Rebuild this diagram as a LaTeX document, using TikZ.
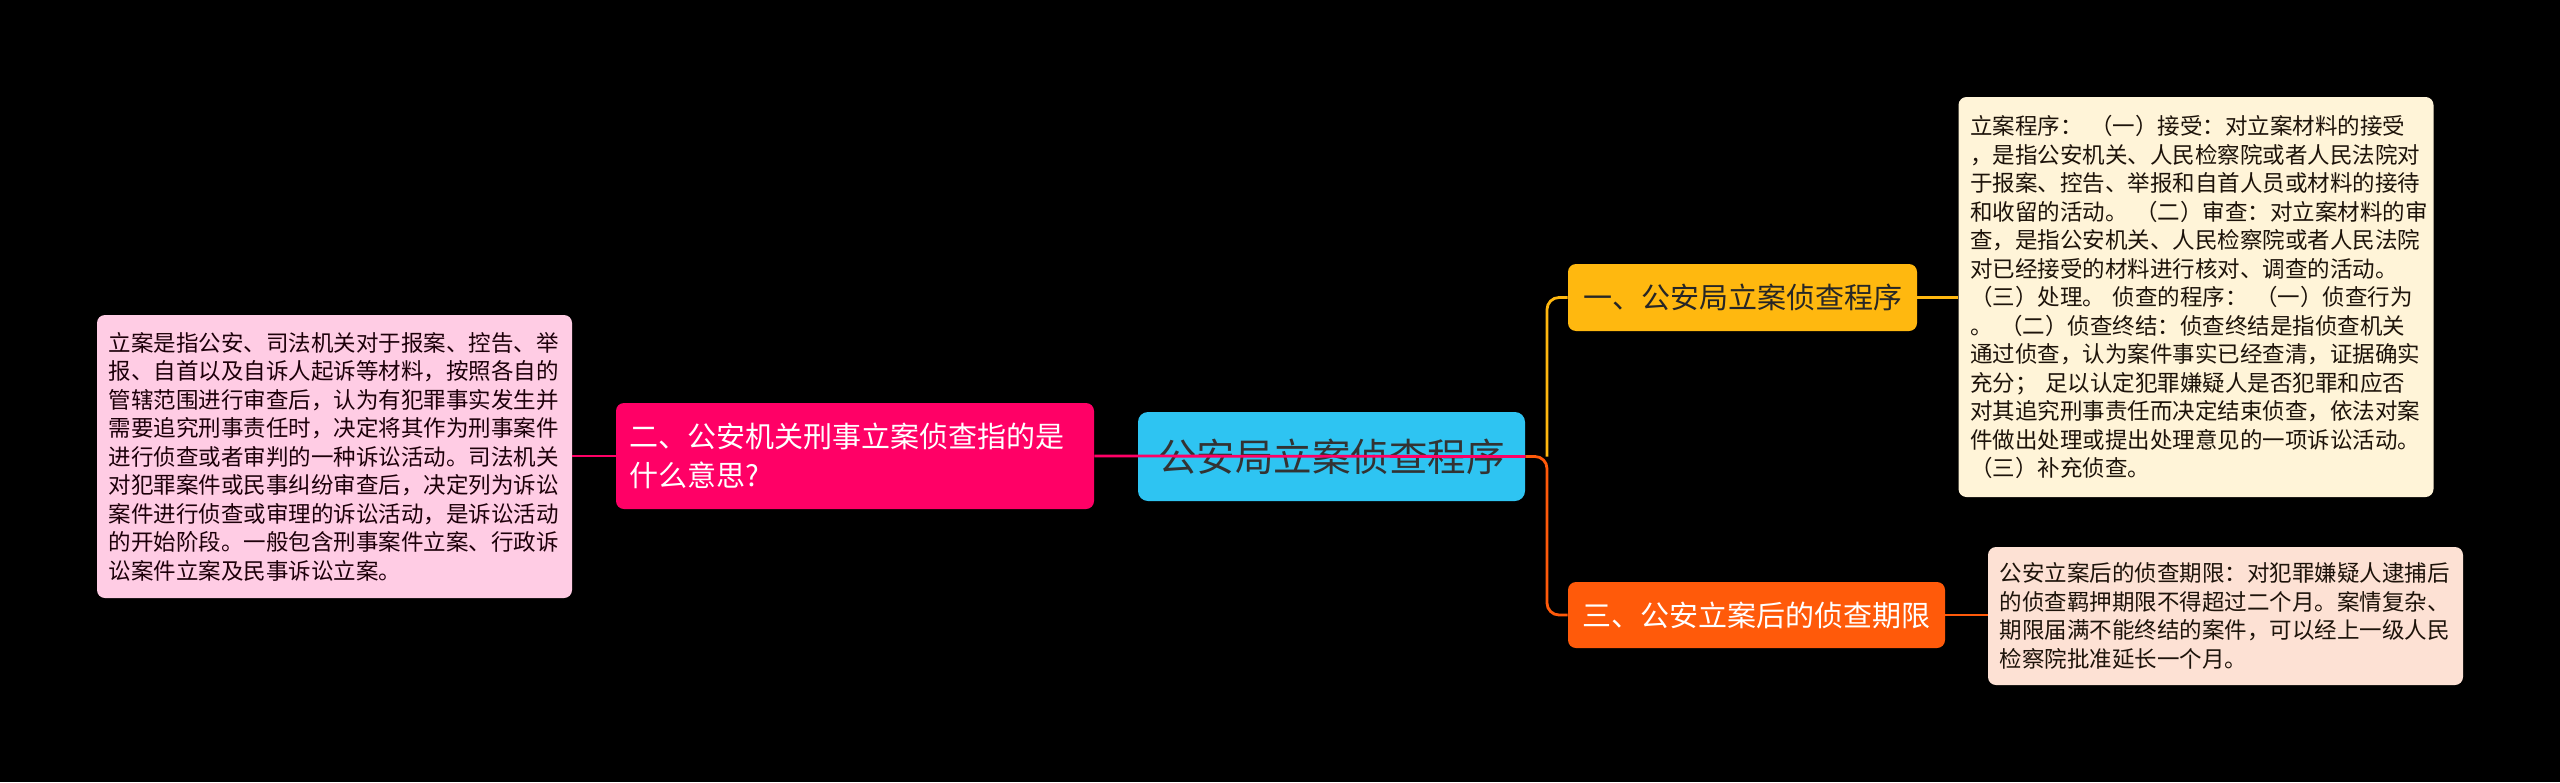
\documentclass[tikz,border=0pt]{standalone}
\usepackage{fontspec}
\setmainfont{Noto Sans CJK SC}
\usepackage{tikz}

\definecolor{rootblue}{HTML}{2EC4F2}
\definecolor{pinkbr}{HTML}{FF0066}
\definecolor{pinkleaf}{HTML}{FFCCE4}
\definecolor{yellowbr}{HTML}{FFB80F}
\definecolor{yellowleaf}{HTML}{FFF4D8}
\definecolor{orangebr}{HTML}{FF5A0A}
\definecolor{orangeleaf}{HTML}{FDE1D4}

\tikzset{
  branch/.style={rounded corners=4pt, inner sep=0pt, align=center, font=\fontsize{14.5pt}{19.5pt}\selectfont},
  leaf/.style={rounded corners=4pt, inner xsep=5.75pt, inner ysep=0pt, text width=226pt, align=left, font=\fontsize{11.25pt}{14.25pt}\selectfont},
  link/.style={line width=1.4pt, rounded corners=6pt}
}

\begin{document}
\begin{tikzpicture}[x=0.5pt, y=-0.5pt]
\fill[black] (0,0) rectangle (2560,782);
\useasboundingbox (0,0) rectangle (2560,782);

\node[fill=rootblue, text=black!80, rounded corners=5pt, inner sep=0pt, minimum width=193.5pt, minimum height=44.5pt, font=\fontsize{19.25pt}{23pt}\selectfont] (root) at (1331.5,456.5) {公安局立案侦查程序};

\node[branch, fill=yellowbr, text=black!85, minimum width=174.5pt, minimum height=33.5pt] (first) at (1742.5,297.5) {一、公安局立案侦查程序};
\node[branch, fill=pinkbr, text=white, inner xsep=6.5pt, text width=226pt, align=left, minimum height=53pt] (second) at (855,456) {二、公安机关刑事立案侦查指的是\\什么意思?};
\node[branch, fill=orangebr, text=white, minimum width=188.5pt, minimum height=33pt] (third) at (1756.5,615) {三、公安立案后的侦查期限};

\node[leaf, fill=yellowleaf, text=black!85!brown, minimum height=200pt] (firstleaf) at (2196,297) {立案程序：~（一）接受：对立案材料的接受\\，是指公安机关、人民检察院或者人民法院对\\于报案、控告、举报和自首人员或材料的接待\\和收留的活动。~（二）审查：对立案材料的审\\查，是指公安机关、人民检察院或者人民法院\\对已经接受的材料进行核对、调查的活动。\\（三）处理。~侦查的程序：~（一）侦查行为\\。~（二）侦查终结：侦查终结是指侦查机关\\通过侦查，认为案件事实已经查清，证据确实\\充分；~足以认定犯罪嫌疑人是否犯罪和应否\\对其追究刑事责任而决定结束侦查，依法对案\\件做出处理或提出处理意见的一项诉讼活动。\\（三）补充侦查。};
\node[leaf, fill=pinkleaf, text=black!85!purple, minimum height=141.5pt] (secondleaf) at (334.5,456.5) {立案是指公安、司法机关对于报案、控告、举\\报、自首以及自诉人起诉等材料，按照各自的\\管辖范围进行审查后，认为有犯罪事实发生并\\需要追究刑事责任时，决定将其作为刑事案件\\进行侦查或者审判的一种诉讼活动。司法机关\\对犯罪案件或民事纠纷审查后，决定列为诉讼\\案件进行侦查或审理的诉讼活动，是诉讼活动\\的开始阶段。一般包含刑事案件立案、行政诉\\讼案件立案及民事诉讼立案。};
\node[leaf, fill=orangeleaf, text=black!85!brown, minimum height=69pt] (thirdleaf) at (2225.5,616) {公安立案后的侦查期限：对犯罪嫌疑人逮捕后\\的侦查羁押期限不得超过二个月。案情复杂、\\期限届满不能终结的案件，可以经上一级人民\\检察院批准延长一个月。};

\coordinate (fork) at (1547,456.5);
\draw[link, yellowbr] (fork) |- (first.west);
\draw[link, orangebr] (root.east) -- (fork) |- (third.west);
\draw[link, pinkbr] (second.east) -- (root.east);
\draw[link, yellowbr] (first.east) -- (firstleaf.west |- first.east);
\draw[link, orangebr] (third.east) -- (thirdleaf.west |- third.east);
\draw[link, pinkbr] (second.west) -- (secondleaf.east |- second.west);
\end{tikzpicture}
\end{document}
